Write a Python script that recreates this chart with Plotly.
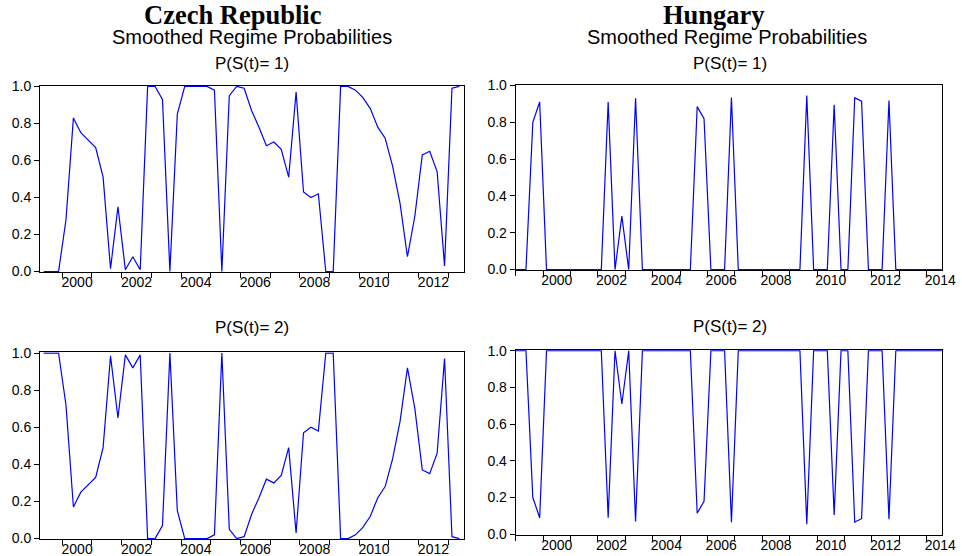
import plotly.graph_objects as go

# ---------------- DATA ----------------
# Czech Republic: quarterly, 1999Q2 .. 2013Q2
cz_start_year, cz_start_q = 1999, 2
cz_p1 = [0.0, 0.0, 0.0, 0.28, 0.83, 0.75, 0.71, 0.67, 0.51, 0.015,
         0.35, 0.01, 0.08, 0.01, 1.0, 1.0, 0.93, 0.0, 0.85, 1.0,
         1.0, 1.0, 1.0, 0.98, 0.0, 0.95, 1.0, 0.99, 0.87, 0.78,
         0.68, 0.70, 0.66, 0.51, 0.97, 0.43, 0.40, 0.42, 0.0, 0.0,
         1.0, 1.0, 0.98, 0.94, 0.88, 0.78, 0.72, 0.57, 0.37, 0.08,
         0.30, 0.63, 0.65, 0.54, 0.03, 0.99, 1.0]
cz_p2 = [1.0, 1.0, 1.0, 0.72, 0.17, 0.25, 0.29, 0.33, 0.49, 0.985,
         0.65, 0.99, 0.92, 0.99, 0.0, 0.0, 0.07, 1.0, 0.15, 0.0,
         0.0, 0.0, 0.0, 0.02, 1.0, 0.05, 0.0, 0.01, 0.13, 0.22,
         0.32, 0.30, 0.34, 0.49, 0.03, 0.57, 0.60, 0.58, 1.0, 1.0,
         0.0, 0.0, 0.02, 0.06, 0.12, 0.22, 0.28, 0.43, 0.63, 0.92,
         0.70, 0.37, 0.35, 0.46, 0.97, 0.01, 0.0]

# Hungary: quarterly, 1998Q4 .. 2014Q3
hu_start_year, hu_start_q = 1998, 4
hu_p1 = [0.0,
         0.0, 0.0, 0.80, 0.91,
         0.0, 0.0, 0.0, 0.0,
         0.0, 0.0, 0.0, 0.0,
         0.0, 0.91, 0.0, 0.29,
         0.0, 0.93, 0.0, 0.0,
         0.0, 0.0, 0.0, 0.0,
         0.0, 0.0, 0.885, 0.82,
         0.0, 0.0, 0.0, 0.935,
         0.0, 0.0, 0.0, 0.0,
         0.0, 0.0, 0.0, 0.0,
         0.0, 0.0, 0.945, 0.0,
         0.0, 0.0, 0.895, 0.0,
         0.0, 0.933, 0.915, 0.0,
         0.0, 0.0, 0.918, 0.0,
         0.0, 0.0, 0.0, 0.0,
         0.0, 0.0, 0.0]
hu_p2 = [1.0,
         1.0, 1.0, 0.20, 0.09,
         1.0, 1.0, 1.0, 1.0,
         1.0, 1.0, 1.0, 1.0,
         1.0, 0.09, 1.0, 0.71,
         1.0, 0.07, 1.0, 1.0,
         1.0, 1.0, 1.0, 1.0,
         1.0, 1.0, 0.115, 0.18,
         1.0, 1.0, 1.0, 0.065,
         1.0, 1.0, 1.0, 1.0,
         1.0, 1.0, 1.0, 1.0,
         1.0, 1.0, 0.055, 1.0,
         1.0, 1.0, 0.105, 1.0,
         1.0, 0.067, 0.085, 1.0,
         1.0, 1.0, 0.082, 1.0,
         1.0, 1.0, 1.0, 1.0,
         1.0, 1.0, 1.0]

y_ticks = [0.0, 0.2, 0.4, 0.6, 0.8, 1.0]
y_tick_labels = ["0.0", "0.2", "0.4", "0.6", "0.8", "1.0"]
cz_year_labels = [2000, 2002, 2004, 2006, 2008, 2010, 2012]
hu_year_labels = [2000, 2002, 2004, 2006, 2008, 2010, 2012, 2014]
cz_year_ticks = list(range(2000, 2014))
hu_year_ticks = list(range(1999, 2015))

countries = ["Czech Republic", "Hungary"]
subtitle = "Smoothed Regime Probabilities"
panel_titles = ["P(S(t)= 1)", "P(S(t)= 2)"]


def quarter_x(start_year, start_q, n):
    xs = []
    y, q = start_year, start_q
    for _ in range(n):
        xs.append(y + (q - 0.5) / 4.0)
        q += 1
        if q > 4:
            q = 1
            y += 1
    return xs


cz_x = quarter_x(cz_start_year, cz_start_q, len(cz_p1))
hu_x = quarter_x(hu_start_year, hu_start_q, len(hu_p1))

# ---------------- LAYOUT GEOMETRY (pixels) ----------------
W, H = 962, 556
def px_x(v):
    return v / W
def px_y(v):
    return 1 - v / H

fig = go.Figure()
line = dict(color="#0000ff", width=1.2)
fig.add_trace(go.Scatter(x=cz_x, y=cz_p1, mode="lines", line=line, xaxis="x", yaxis="y", showlegend=False))
fig.add_trace(go.Scatter(x=cz_x, y=cz_p2, mode="lines", line=line, xaxis="x2", yaxis="y2", showlegend=False))
fig.add_trace(go.Scatter(x=hu_x, y=hu_p1, mode="lines", line=line, xaxis="x3", yaxis="y3", showlegend=False))
fig.add_trace(go.Scatter(x=hu_x, y=hu_p2, mode="lines", line=line, xaxis="x4", yaxis="y4", showlegend=False))

font_sans = "Liberation Sans, Arial, sans-serif"
tick_font = dict(family=font_sans, size=14, color="black")


def xaxis_cfg(dom, rng, labels, ticks, anchor):
    return dict(
        domain=dom, range=rng, anchor=anchor, automargin=False,
        showline=True, linecolor="black", linewidth=1, mirror=True,
        showgrid=False, zeroline=False,
        tickmode="array", tickvals=[v + 0.5 for v in labels], ticktext=[str(v) for v in labels],
        ticks="outside", ticklen=0, tickcolor="rgba(0,0,0,0)", ticklabelstandoff=-3,
        minor=dict(tickmode="array", tickvals=ticks, ticks="outside", ticklen=5,
                   tickcolor="black", tickwidth=1, showgrid=False),
        tickfont=tick_font, layer="below traces", fixedrange=True,
    )


def yaxis_cfg(dom, anchor):
    return dict(
        domain=dom, range=[-0.004, 1.004], anchor=anchor, automargin=False,
        showline=True, linecolor="black", linewidth=1, mirror=True,
        showgrid=False, zeroline=False,
        tickmode="array", tickvals=y_ticks, ticktext=y_tick_labels,
        ticks="outside", ticklen=5, tickcolor="black",
        tickfont=tick_font, layer="below traces", fixedrange=True,
    )


cz_dom_x = [px_x(40), px_x(464)]
hu_dom_x = [px_x(515.7), px_x(941.7)]
cz_top_y = [px_y(272.3), px_y(85.7)]
cz_bot_y = [px_y(539.3), px_y(352.3)]
hu_top_y = [px_y(270.3), px_y(84.7)]
hu_bot_y = [px_y(535), px_y(350)]

cz_range = [1999.25, 2013.53]
hu_range = [1999.0, 2014.55]

fig.update_layout(
    width=W, height=H, autosize=False,
    margin=dict(l=0, r=0, t=0, b=0, pad=0, autoexpand=False),
    paper_bgcolor="white", plot_bgcolor="white",
    xaxis=xaxis_cfg(cz_dom_x, cz_range, cz_year_labels, cz_year_ticks, "y"),
    yaxis=yaxis_cfg(cz_top_y, "x"),
    xaxis2=xaxis_cfg(cz_dom_x, cz_range, cz_year_labels, cz_year_ticks, "y2"),
    yaxis2=yaxis_cfg(cz_bot_y, "x2"),
    xaxis3=xaxis_cfg(hu_dom_x, hu_range, hu_year_labels, hu_year_ticks, "y3"),
    yaxis3=yaxis_cfg(hu_top_y, "x3"),
    xaxis4=xaxis_cfg(hu_dom_x, hu_range, hu_year_labels, hu_year_ticks, "y4"),
    yaxis4=yaxis_cfg(hu_bot_y, "x4"),
)

annotations = []
def add_text(text, cx, cy, size, family, bold=False):
    annotations.append(dict(
        text=("<b>%s</b>" % text) if bold else text,
        x=px_x(cx), y=px_y(cy), xref="paper", yref="paper",
        xanchor="center", yanchor="middle", showarrow=False,
        font=dict(family=family, size=size, color="black"),
    ))

serif = "Liberation Serif, Times New Roman, serif"
add_text(countries[0], 232.5, 15.0, 26.5, serif, bold=True)
add_text(countries[1], 713.8, 15.0, 26.5, serif, bold=True)
add_text(subtitle, 252, 37.0, 20, font_sans)
add_text(subtitle, 727, 36.5, 20, font_sans)
add_text(panel_titles[0], 251.7, 63.5, 17, font_sans)
add_text(panel_titles[0], 730, 63.5, 17, font_sans)
add_text(panel_titles[1], 251.7, 327, 17, font_sans)
add_text(panel_titles[1], 730, 326, 17, font_sans)
fig.update_layout(annotations=annotations)

post = ("document.body.style.margin='0';document.body.style.padding='0';"
        "document.body.style.overflow='hidden';"
        "var d=document.getElementById('{plot_id}');"
        "d.style.position='absolute';d.style.left='0px';d.style.top='0px';")
fig.write_html("out.html", post_script=post, config={"displayModeBar": False})
